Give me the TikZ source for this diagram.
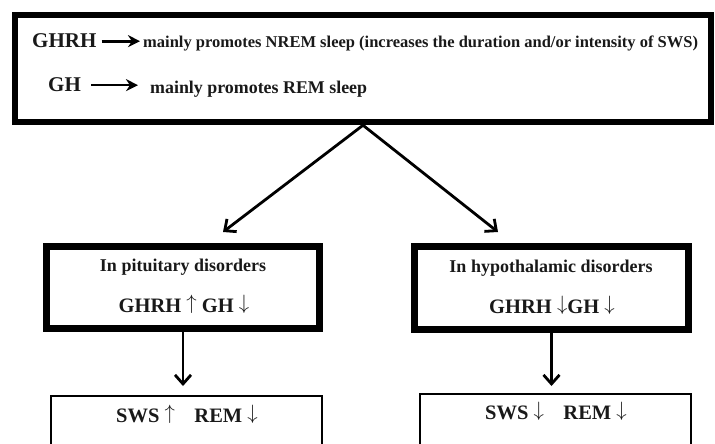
\documentclass[tikz,border=0pt]{standalone}
\usepackage{fontspec}
\setmainfont{Liberation Serif}
\usetikzlibrary{arrows.meta}
\newcommand{\myup}{\raisebox{0.14em}{$\uparrow$}}
\newcommand{\mydown}{\raisebox{0.14em}{$\downarrow$}}
\begin{document}
\begin{tikzpicture}[x=1pt,y=-1pt,
  thickbox/.style={draw=black, line width=6.5pt, inner sep=0pt},
  thinbox/.style={draw=black, line width=2pt, inner sep=0pt},
  txt/.style={inner sep=0pt, text=black!90},
  big/.style={txt, font=\bfseries\fontsize{20.5}{22}\selectfont},
  mid/.style={txt, font=\bfseries\fontsize{18}{20}\selectfont},
  conn/.style={line width=2.8pt, -{Straight Barb[length=9pt,width=16pt]}},
  inarrow/.style={line width=2.8pt, -{Stealth[length=12pt,width=12pt]}}]
\useasboundingbox (0,0) rectangle (715,444);
% top box
\node[thickbox, minimum width=696pt, minimum height=107pt] (top) at (363,68.5) {};
\node[big, anchor=base west, font=\bfseries\fontsize{21}{22}\selectfont] (g1) at (32,48) {GHRH};
\node[txt, anchor=base west, font=\bfseries\fontsize{16.5}{18}\selectfont] (t1) at (143,48) {mainly promotes NREM sleep (increases the duration and/or intensity of SWS)};
\node[big, anchor=base west, font=\bfseries\fontsize{21}{22}\selectfont] (g2) at (48,92) {GH};
\node[txt, anchor=base west, font=\bfseries\fontsize{17.9}{20}\selectfont] (t2) at (150,93) {mainly promotes REM sleep};
\draw[inarrow, shorten <=5pt, shorten >=3pt] (g1.east) -- (g1.east -| t1.west);
\draw[inarrow, line width=2.2pt, shorten <=10pt, shorten >=12pt] (g2.east) -- (g2.east -| t2.west);
% middle boxes
\node[thickbox, minimum width=273pt, minimum height=82pt] (ml) at (183,287.5) {};
\node[thickbox, minimum width=274pt, minimum height=83pt] (mr) at (551.5,288) {};
\node[mid, anchor=base] (mlt) at (183,271) {In pituitary disorders};
\node[big, anchor=base] (mlh) at (184,312) {GHRH \myup\ GH \mydown};
\node[mid, anchor=base] (mrt) at (551,272) {In hypothalamic disorders};
\node[big, anchor=base] (mrh) at (552,313) {GHRH \mydown GH \mydown};
% bottom boxes
\node[thinbox, minimum width=271pt, minimum height=80pt, anchor=north] (bl) at (186.5,395) {};
\node[thinbox, minimum width=271pt, minimum height=80pt, anchor=north] (br) at (555.5,393) {};
\node[big, anchor=base] (blt) at (187,422) {SWS \myup\hspace{0.95em}REM \mydown};
\node[big, anchor=base] (brt) at (556,419) {SWS \mydown\hspace{0.95em}REM \mydown};
% connectors
\coordinate (lt) at (223,232);
\coordinate (rt) at (498,232);
\draw[conn] (top.south) -- (lt);
\draw[conn] (top.south) -- (rt);
\draw[conn, shorten >=9pt] (ml.south) -- (ml.south |- bl.north);
\draw[conn, shorten >=7pt] (mr.south) -- (mr.south |- br.north);
\end{tikzpicture}
\end{document}
